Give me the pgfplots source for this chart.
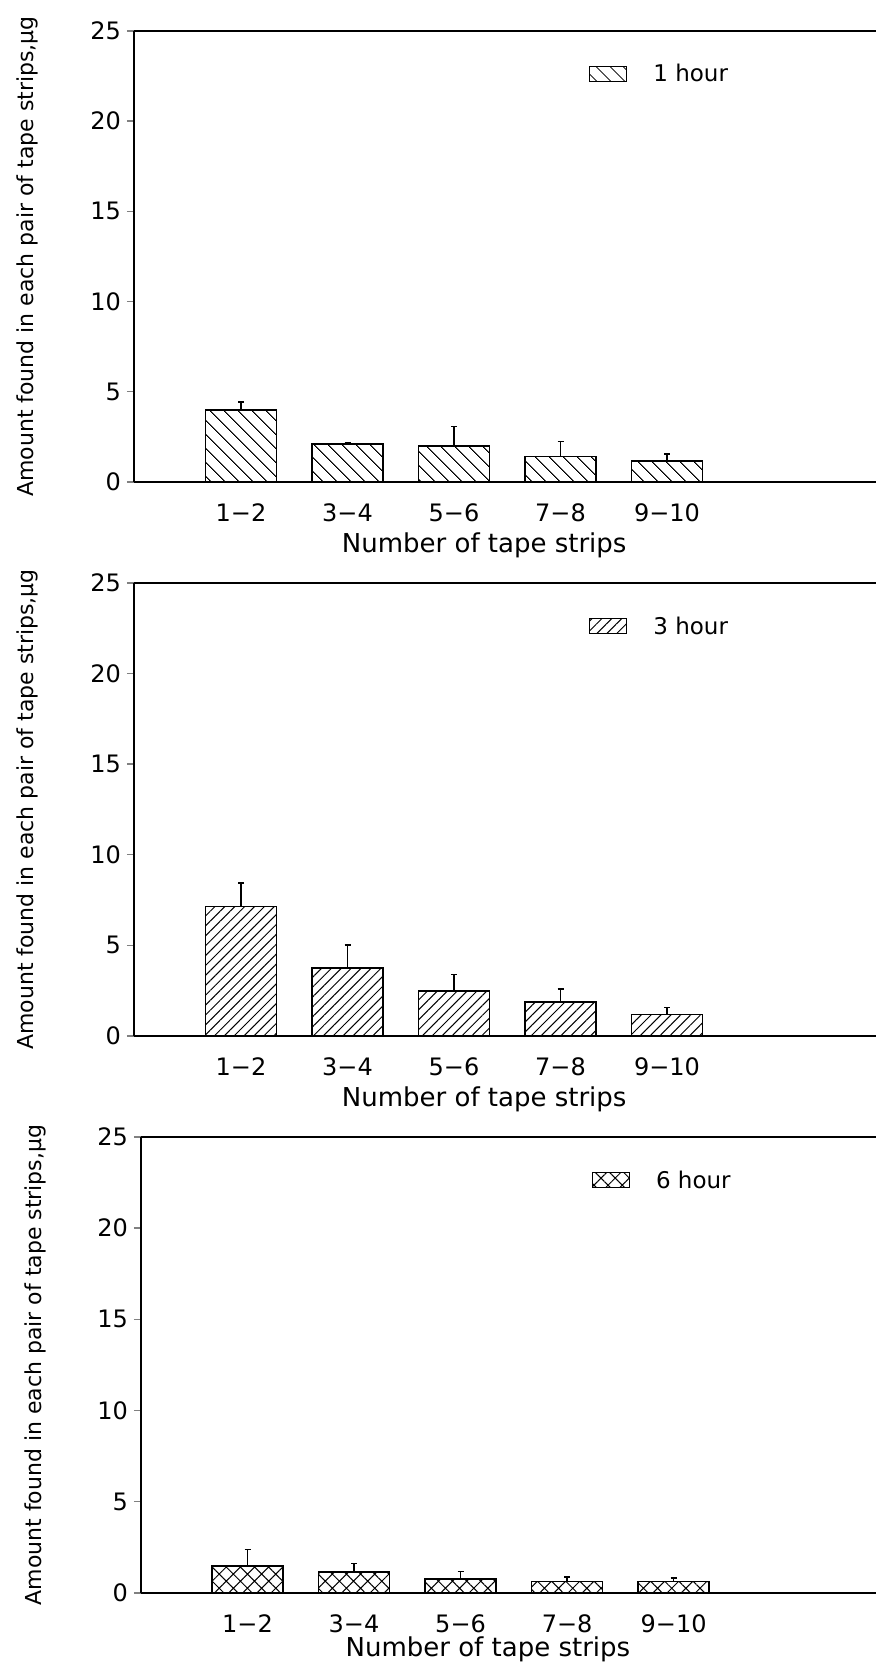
\documentclass[border=0pt]{standalone}
\usepackage{fontspec}
\setmainfont{DejaVu Sans}
\usepackage{pgfplots}
\pgfplotsset{compat=1.18}
\usetikzlibrary{patterns.meta}

\pgfplotsset{
  panel/.style={
    scale only axis, width=742pt, height=451pt,
    xmin=-1.005, xmax=5.962, ymin=0, ymax=25,
    axis y line*=left, axis x line*=box,
    axis line style={line width=1.8pt},
    /pgf/number format/assume math mode=true,
    ytick={0,5,10,15,20,25},
    xtick={0,1,2,3,4},
    xticklabels={1−2,3−4,5−6,7−8,9−10},
    xtick style={draw=none},
    ytick style={line width=1.4pt},
    tick align=outside, major tick length=7pt,
    yticklabel style={font=\fontsize{24}{28}\selectfont, inner sep=0pt, xshift=-6pt},
    xticklabel style={font=\fontsize{24}{28}\selectfont, anchor=north, inner sep=0pt, yshift=-14pt},
    xlabel={Number of tape strips},
    xlabel style={font=\fontsize{26}{30}\selectfont, at={(axis description cs:0.472,0)}, anchor=center, yshift=-63pt},
    ylabel={Amount found in each pair of tape strips,μg},
    ylabel style={font=\fontsize{22}{26}\selectfont, at={(axis description cs:-0.143,0.5)}, anchor=center, rotate=0},
    ybar, bar width=71pt,
    legend style={draw=none, fill=none, at={(axis description cs:0.613,0.905)}, anchor=west, inner sep=0pt,
      font=\fontsize{23}{28}\selectfont, column sep=8pt, nodes={inner sep=0pt},
      /tikz/every odd column/.append style={column sep=26pt}},
    legend image code/.code={\draw[#1, line width=1.3pt] (0pt,-7.5pt) rectangle (37pt,7.5pt);},
  },
  barstyle/.style={draw=black, line width=1.6pt,
    error bars/.cd, y dir=plus, y explicit,
    error bar style={line width=1.4pt, draw=black},
    error mark options={rotate=90, mark size=3pt, line width=1.4pt, draw=black},
    /pgfplots/.cd},
}

\begin{document}
\begin{tikzpicture}
\path[use as bounding box] (0pt,0pt) rectangle (876pt,1666pt);

% Panel 1: 1 hour
\begin{axis}[panel, at={(134pt,1184pt)}, anchor=south west]
\addplot[pattern={Lines[angle=-45, distance=10.5pt, line width=1pt]}, barstyle]
  coordinates {(0,4.0) +- (0,0.44) (1,2.12) +- (0,0.05) (2,1.98) +- (0,1.11) (3,1.42) +- (0,0.82) (4,1.16) +- (0,0.39)};
\addlegendentry{1 hour}
\end{axis}

% Panel 2: 3 hour
\begin{axis}[panel, at={(134pt,630pt)}, anchor=south west, height=453pt]
\addplot[pattern={Lines[angle=45, distance=7pt, line width=1pt]}, barstyle]
  coordinates {(0,7.15) +- (0,1.29) (1,3.76) +- (0,1.27) (2,2.49) +- (0,0.92) (3,1.88) +- (0,0.72) (4,1.19) +- (0,0.38)};
\addlegendentry{3 hour}
\end{axis}

% Panel 3: 6 hour
\begin{axis}[panel, at={(141pt,73pt)}, anchor=south west, height=456pt, width=735pt, xmin=-1.0, xmax=5.90,
  xlabel style={yshift=7pt}]
\addplot[pattern={Hatch[angle=45, distance=10pt, line width=1pt]}, barstyle]
  coordinates {(0,1.49) +- (0,0.89) (1,1.15) +- (0,0.46) (2,0.77) +- (0,0.40) (3,0.64) +- (0,0.23) (4,0.62) +- (0,0.21)};
\addlegendentry{6 hour}
\end{axis}
\end{tikzpicture}
\end{document}
